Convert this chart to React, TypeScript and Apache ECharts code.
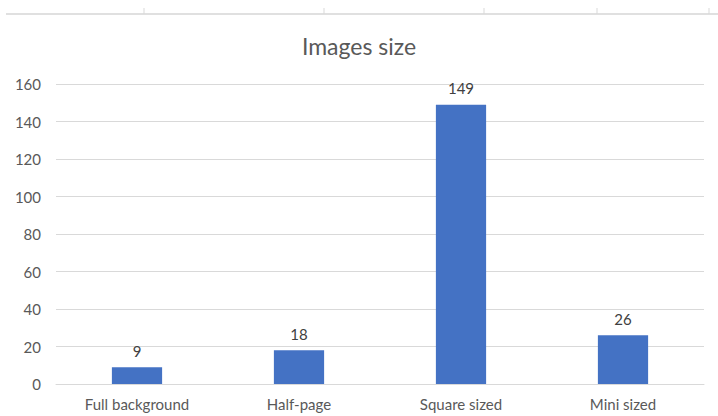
import React, { useEffect, useRef } from "react";
import * as echarts from "echarts";

const categories = ["Full background", "Half-page", "Square sized", "Mini sized"];
const counts = [9, 18, 149, 26];
const yTicks = { min: 0, max: 160, interval: 20 };

// Faint ruler strip along the top edge
const rulerTickX = [144, 324, 484, 597, 709];

export default function App() {
  const ref = useRef<HTMLDivElement>(null);

  useEffect(() => {
    if (!ref.current) return;
    const chart = echarts.init(ref.current, null, { renderer: "svg" });
    const grey = "#595959";
    const gridGrey = "#d9d9d9";
    chart.setOption({
      animation: false,
      backgroundColor: "#ffffff",
      title: {
        text: "Images size",
        left: "center",
        top: 29,
        textStyle: { fontFamily: "Lato", fontSize: 23, fontWeight: "normal", color: grey },
      },
      grid: { left: 56, right: 14, top: 84, bottom: 32, containLabel: false },
      xAxis: {
        type: "category",
        data: categories,
        axisLine: { show: true, lineStyle: { color: gridGrey } },
        axisTick: { show: false },
        axisLabel: { color: grey, fontFamily: "Lato", fontSize: 15, margin: 12 },
      },
      yAxis: {
        type: "value",
        min: yTicks.min,
        max: yTicks.max,
        interval: yTicks.interval,
        axisLine: { show: false },
        axisTick: { show: false },
        splitLine: { lineStyle: { color: gridGrey, width: 1 } },
        axisLabel: { color: grey, fontFamily: "Lato", fontSize: 15, margin: 15 },
      },
      series: [
        {
          type: "bar",
          data: counts,
          barWidth: "31%",
          itemStyle: { color: "#4472C4" },
          label: {
            show: true,
            position: "top",
            distance: 9,
            color: "#404040",
            fontFamily: "Lato",
            fontSize: 15,
          },
        },
      ],
      graphic: [
        {
          type: "line",
          shape: { x1: 6, y1: 14, x2: 718, y2: 14 },
          style: { stroke: "#e0e0e0", lineWidth: 2 },
        },
        ...rulerTickX.map((x) => ({
          type: "line",
          shape: { x1: x, y1: 8, x2: x, y2: 14 },
          style: { stroke: "#d9d9d9", lineWidth: 1 },
        })),
      ],
    });
    return () => chart.dispose();
  }, []);

  return (
    <div
      ref={ref}
      style={{ position: "fixed", left: 0, top: 0, width: 718, height: 416 }}
    />
  );
}
